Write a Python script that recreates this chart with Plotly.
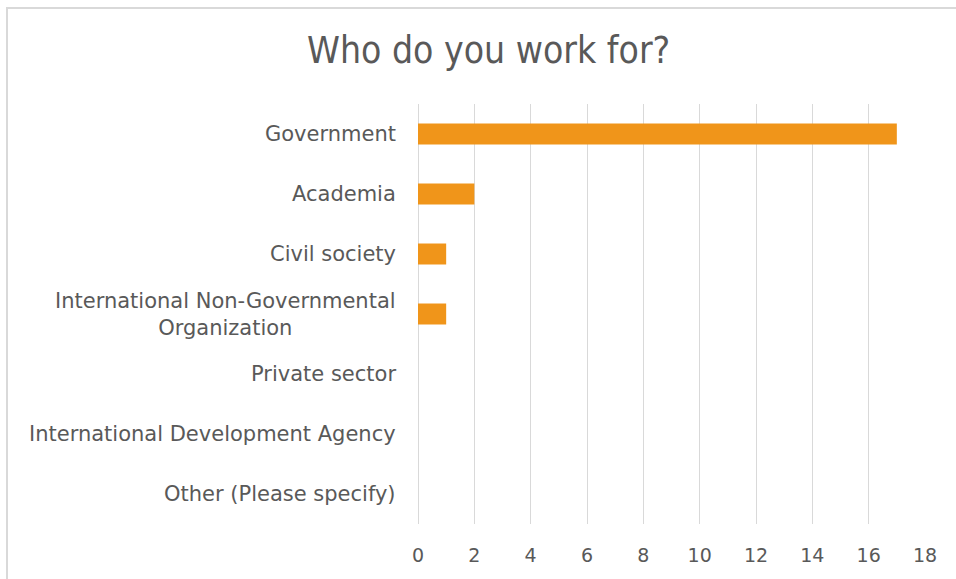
import plotly.graph_objects as go

categories = ["Government", "Academia", "Civil society",
              "International Non-Governmental<br>Organization",
              "Private sector", "International Development Agency",
              "Other (Please specify)"]
values = [17, 2, 1, 1, 0, 0, 0]
x_ticks = [0, 2, 4, 6, 8, 10, 12, 14, 16, 18]
title_text = "Who do you work for?"

W, H = 956, 579
L, R, T, B = 418, 31, 104, 55
pw, ph = W - L - R, H - T - B

fig = go.Figure(go.Bar(
    x=values, y=categories, orientation="h",
    marker=dict(color="#F0951A", line=dict(width=0)),
    width=0.35, hoverinfo="x+y",
))

annotations = [dict(
    text=c, x=0, xref="paper", y=c, yref="y", xanchor="right", yanchor="middle",
    xshift=-20, align="center", showarrow=False,
    font=dict(family="DejaVu Sans", size=21, color="#595959"))
    for c in categories]
annotations.append(dict(
    text=title_text, x=(488 - L) / pw, xref="paper", y=(H - B - 50) / ph, yref="paper",
    xanchor="center", yanchor="middle", showarrow=False,
    font=dict(family="Liberation Sans Narrow, DejaVu Sans Condensed, DejaVu Sans", size=37, color="#595959")))

def px_x(p):
    return (p - L) / pw

def px_y(p):
    return (H - B - p) / ph

fig.update_layout(
    width=W, height=H,
    margin=dict(l=L, r=R, t=T, b=B),
    paper_bgcolor="white", plot_bgcolor="white",
    showlegend=False,
    annotations=annotations,
    shapes=[dict(type="rect", xref="paper", yref="paper",
                 x0=px_x(7), x1=px_x(990), y0=px_y(620), y1=px_y(8),
                 line=dict(color="#D9D9D9", width=2), layer="below")],
    xaxis=dict(range=[0, 18], tickvals=x_ticks, showgrid=True, gridcolor="#D9D9D9",
               gridwidth=1, zeroline=True, zerolinecolor="#D9D9D9", zerolinewidth=1,
               showline=False, ticks="",
               tickfont=dict(family="DejaVu Sans", size=19, color="#595959"),
               ticklabelstandoff=18, fixedrange=True),
    yaxis=dict(categoryorder="array", categoryarray=categories[::-1],
               showticklabels=False, showgrid=False, zeroline=False, showline=False,
               ticks="", fixedrange=True),
)

fig.write_html("out.html")
